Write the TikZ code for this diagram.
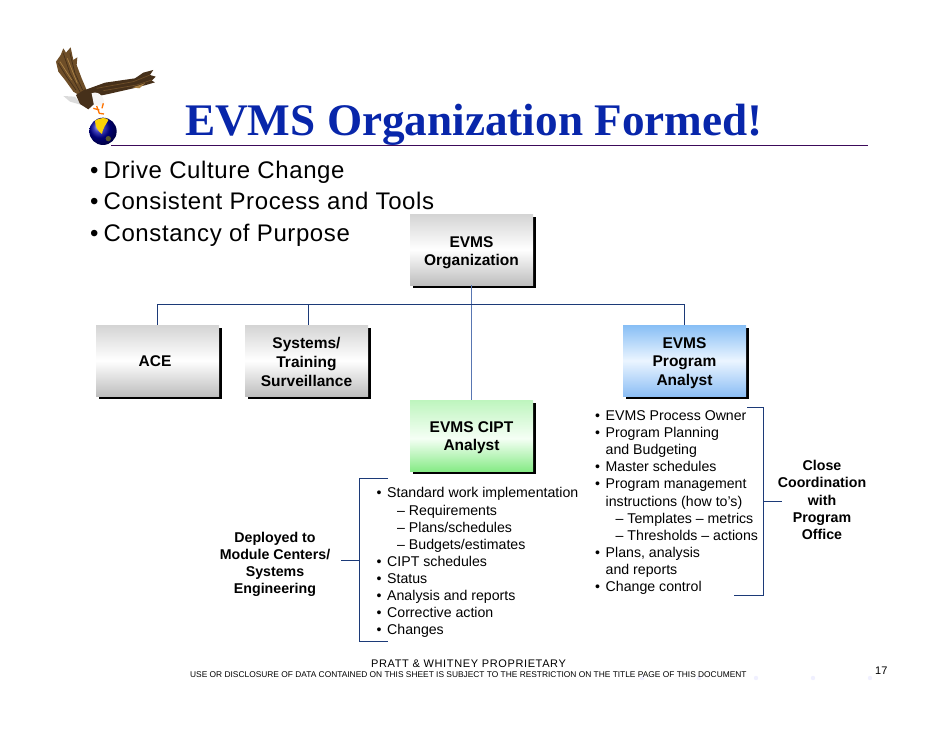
\documentclass[tikz,border=0pt]{standalone}
\usepackage{fontspec}
\setmainfont{Liberation Sans}
\newfontfamily\titlefont{Liberation Serif}
\usetikzlibrary{shadows}
\definecolor{gT}{RGB}{212,212,212}
\definecolor{gB}{RGB}{190,190,190}
\definecolor{grT}{RGB}{190,245,190}
\definecolor{grM}{RGB}{245,255,245}
\definecolor{grB}{RGB}{135,235,135}
\definecolor{blT}{RGB}{135,190,245}
\definecolor{blM}{RGB}{235,245,255}
\definecolor{blB}{RGB}{140,190,245}
\pgfdeclareverticalshading{greybox}{100bp}{color(0bp)=(gB);color(25bp)=(gB);color(50bp)=(white);color(75bp)=(gT);color(100bp)=(gT)}
\pgfdeclareverticalshading{greenbox}{100bp}{color(0bp)=(grB);color(25bp)=(grB);color(48bp)=(grM);color(75bp)=(grT);color(100bp)=(grT)}
\pgfdeclareverticalshading{bluebox}{100bp}{color(0bp)=(blB);color(25bp)=(blB);color(50bp)=(blM);color(75bp)=(blT);color(100bp)=(blT)}
\definecolor{linkdark}{RGB}{28,58,120}
\definecolor{linklight}{RGB}{88,118,178}
\definecolor{titleblue}{RGB}{8,38,170}
\definecolor{rulecol}{RGB}{60,10,90}
\definecolor{wingA}{RGB}{110,78,40}
\definecolor{wingB}{RGB}{70,48,26}
\definecolor{wingC}{RGB}{170,130,70}
\tikzset{
  orgbox/.style={minimum width=123pt,minimum height=71pt,inner sep=0pt,align=center,
    font=\fontsize{15.5}{18.8}\selectfont\bfseries,
    general shadow={shadow xshift=3pt,shadow yshift=-3pt,fill=black}},
  link/.style={draw=linkdark,line width=1pt},
  softlink/.style={draw=linklight,line width=1.3pt},
  listtext/.style={anchor=north west,inner sep=0pt,align=left,font=\fontsize{14.15}{17.1}\selectfont},
  headline/.style={anchor=base west,inner sep=0pt,font=\fontsize{24}{24}\selectfont\addfontfeatures{LetterSpace=2.5}},
  sidelabel/.style={inner sep=0pt,align=center,font=\fontsize{14.2}{17.1}\selectfont\bfseries},
  foot/.style={inner sep=0pt,anchor=base west},
  faintdot/.style={fill=blue!6,draw=none}
}
\newcommand{\blt}{\makebox[10.5pt][l]{•}}
\newcommand{\sbl}{\hspace*{20.5pt}}
\newcommand{\dn}[1]{\mbox{}\\[-#1pt]}
\begin{document}
\begin{tikzpicture}[x=1pt,y=-1pt]
\useasboundingbox (0,0) rectangle (942,728);
\foreach \x in {642,699,756,813,870}{\fill[faintdot] (\x,678) circle (2.2);}
% eagle
\begin{scope}[shift={(40,30)},x=.3333pt,y=-.3333pt]
\fill[black!14] (70,198) -- (105,200) -- (125,225) -- (90,215) -- cycle;
\fill[wingA] (48,95) -- (62,75) -- (70,55) -- (78,68) -- (92,52) -- (100,90) -- (112,82) -- (110,105) -- (125,145) -- (140,180) -- (125,200) -- (100,185) -- (75,150) -- (55,125) -- cycle;
\draw[wingB,line width=.7pt] (70,70) -- (90,130) -- (120,185) (90,70) -- (105,130) -- (128,180) (55,100) -- (80,140) -- (108,180);
\draw[wingC,line width=.7pt] (60,95) -- (95,150) (82,85) -- (112,160);
\fill[wingB] (140,178) -- (195,158) -- (285,145) -- (310,128) -- (340,120) -- (330,135) -- (347,140) -- (335,152) -- (345,157) -- (318,165) -- (280,175) -- (205,192) -- (165,200) -- cycle;
\draw[wingA,line width=.7pt] (170,175) -- (280,155) -- (330,135) (190,182) -- (290,165) -- (335,150);
\fill[wingC] (278,172) -- (315,160) -- (298,175) -- cycle;
\fill[wingB] (108,195) -- (135,178) -- (165,180) -- (170,215) -- (145,238) -- (120,222) -- cycle;
\fill[black!4] (155,190) .. controls (178,180) and (197,205) .. (192,228) -- (162,226) -- cycle;
\draw[orange!90!red,line width=1.3pt] (170,228) -- (178,250) -- (192,252) (160,235) -- (178,240) (190,220) -- (186,235);
\shade[ball color=blue!65!black] (189,304) circle (41);
\fill[yellow!70!orange] (165,272) .. controls (180,262) and (200,262) .. (205,270) .. controls (198,285) and (190,290) .. (186,312) .. controls (175,305) and (165,290) .. (165,272) -- cycle;
\fill[black!50!olive] (205,326) circle (8);
\end{scope}
% title
\node[anchor=base west,inner sep=0pt,text=titleblue,font=\fontsize{45.2}{46}\selectfont\titlefont\bfseries] (title) at (185,135) {EVMS Organization Formed!};
\coordinate (ruleL) at (111,145.5);
\coordinate (ruleR) at (868,145.5);
\draw[rulecol,line width=1pt] (ruleL) -- (ruleR);
\node[headline] (h1) at (90,178) {•\hspace{5pt}Drive Culture Change};
\node[headline] (h2) at (90,209) {•\hspace{5pt}Consistent Process and Tools};
\node[headline] (h3) at (90,241) {•\hspace{5pt}Constancy of Purpose};
% boxes
\node[orgbox,shading=greybox] (org) at (471.5,249.5) {\dn{1.7}EVMS\\Organization};
\node[orgbox,shading=greybox] (ace) at (157.5,360.5) {\dn{5.8}\hspace*{-5pt}ACE};
\node[orgbox,shading=greybox] (sys) at (306.5,360.5) {\dn{4.8}Systems/\\Training\\Surveillance};
\node[orgbox,shading=bluebox] (prog) at (684.5,360.5) {\dn{2.7}EVMS\\Program\\Analyst};
\node[orgbox,shading=greenbox] (cipt) at (471.5,435.5) {\dn{3.7}EVMS CIPT\\Analyst};
% connectors
\draw[softlink] (org.south) -- (cipt.north);
\draw[link] (ace.north) -- ++(0,-20) -| (prog.north);
\draw[link] ([xshift=1.5pt]sys.north) -- ++(0,-20);
% lists
\node[listtext] (cl) at (376.5,487.5) {\blt Standard work implementation\\
\sbl– Requirements\\\sbl– Plans/schedules\\\sbl– Budgets/estimates\\
\blt CIPT schedules\\\blt Status\\\blt Analysis and reports\\\blt Corrective action\\\blt Changes};
\node[listtext] (pl) at (595,410.5) {\blt EVMS Process Owner\\\blt Program Planning\\\hspace*{10.5pt}and Budgeting\\\blt Master schedules\\\blt Program management\\\hspace*{10.5pt}instructions (how to’s)\\\sbl– Templates – metrics\\\sbl– Thresholds – actions\\\blt Plans, analysis\\\hspace*{10.5pt}and reports\\\blt Change control};
\node[sidelabel] (dep) at (275,564.5) {Deployed to\\Module Centers/\\Systems\\Engineering};
\node[sidelabel] (close) at (822,500) {Close\\Coordination\\with\\Program\\Office};
% brackets
\coordinate (ct) at (388,478);
\coordinate (cb) at (388,641);
\coordinate (pt) at (747,407);
\coordinate (pb) at (734,595);
\draw[link] (ct) -- (359,478) -- (359,641) -- (cb);
\draw[link] (pt) -- (763,407) -- (763,595) -- (pb);
\coordinate (cj) at (359,560);
\coordinate (pj) at (763,501);
\draw[link] ([xshift=11pt]dep.east |- cj) -- (cj);
\draw[link] (pj) -- ([xshift=4pt]close.west |- pj);
% footer
\node[foot,font=\fontsize{11}{11}\selectfont\addfontfeatures{LetterSpace=5.7}] (f1) at (371,667) {PRATT \& WHITNEY PROPRIETARY};
\node[foot,font=\fontsize{8.37}{9}\selectfont] (f2) at (190,677) {USE OR DISCLOSURE OF DATA CONTAINED ON THIS SHEET IS SUBJECT TO THE RESTRICTION ON THE TITLE PAGE OF THIS DOCUMENT};
\node[foot,font=\fontsize{11}{11}\selectfont] (pg) at (875,674.5) {17};
\end{tikzpicture}
\end{document}
